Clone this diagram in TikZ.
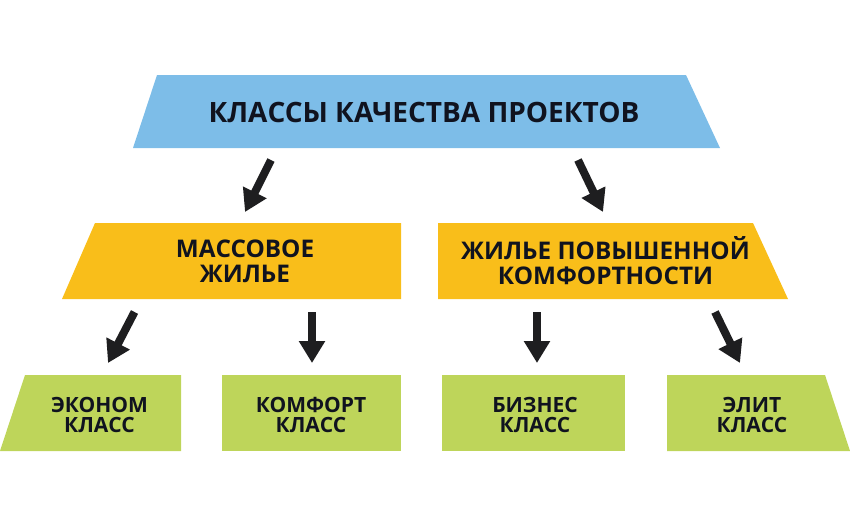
\documentclass[tikz,border=0pt]{standalone}
\usepackage{fontspec}
\setmainfont{Open Sans}
\usetikzlibrary{arrows.meta}
\definecolor{topblue}{HTML}{7DBDE8}
\definecolor{midorange}{HTML}{F9BE1A}
\definecolor{lowgreen}{HTML}{BED55A}
\definecolor{txtdark}{HTML}{10131F}
\definecolor{arrdark}{HTML}{1E1E20}
\tikzset{
  lbl/.style={inner sep=0pt, align=center, text=txtdark},
  toplbl/.style={lbl, font=\bfseries\fontsize{28}{32}\selectfont},
  midlbl/.style={lbl, font=\bfseries\fontsize{24.3}{25}\selectfont},
  lowlbl/.style={lbl, font=\bfseries\fontsize{21}{20}\selectfont},
  fatarrow/.style={draw=arrdark, line width=8pt, -{Triangle[width=25pt,length=22pt]}}
}
\begin{document}
\begin{tikzpicture}[x=1pt,y=-1pt]
\useasboundingbox (0,0) rectangle (850,515);
% shapes
\fill[topblue] (157,75) -- (686,75) -- (720,148) -- (133,148) -- cycle;
\fill[midorange] (95,223) -- (401,223) -- (401,299) -- (62,299) -- cycle;
\fill[midorange] (438,223) -- (753,223) -- (788,299) -- (438,299) -- cycle;
\fill[lowgreen] (25,375) -- (181,375) -- (181,451) -- (0,451) -- cycle;
\fill[lowgreen] (222,375) rectangle (401,451);
\fill[lowgreen] (442,375) rectangle (625,451);
\fill[lowgreen] (667,375) -- (825,375) -- (850,451) -- (667,451) -- cycle;
% labels
\node[toplbl] (top) at (424,112.5) {КЛАССЫ КАЧЕСТВА ПРОЕКТОВ};
\node[midlbl] (mass) at (245,261.5) {МАССОВОЕ\\ЖИЛЬЕ};
\node[midlbl] (comf) at (605.5,261) {ЖИЛЬЕ ПОВЫШЕННОЙ\\КОМФОРТНОСТИ};
\node[lowlbl] (econ) at (99.5,414.5) {ЭКОНОМ\\КЛАСС};
\node[lowlbl] (kmf) at (311,414.5) {КОМФОРТ\\КЛАСС};
\node[lowlbl] (biz) at (535,414.5) {БИЗНЕС\\КЛАСС};
\node[lowlbl] (elit) at (752,414.5) {ЭЛИТ\\КЛАСС};
% arrow end points
\coordinate (a1s) at (271,160); \coordinate (a1e) at (245,212);
\coordinate (a2s) at (578,160); \coordinate (a2e) at (603,212);
\coordinate (b1s) at (134.5,312); \coordinate (b1e) at (108,363);
\coordinate (b2s) at (312,312); \coordinate (b2e) at (312,363);
\coordinate (b3s) at (537,312); \coordinate (b3e) at (537,363);
\coordinate (b4s) at (715,312); \coordinate (b4e) at (740,363);
\draw[fatarrow] (a1s) -- (a1e);
\draw[fatarrow] (a2s) -- (a2e);
\draw[fatarrow] (b1s) -- (b1e);
\draw[fatarrow] (b2s) -- (b2e);
\draw[fatarrow] (b3s) -- (b3e);
\draw[fatarrow] (b4s) -- (b4e);
\end{tikzpicture}
\end{document}
